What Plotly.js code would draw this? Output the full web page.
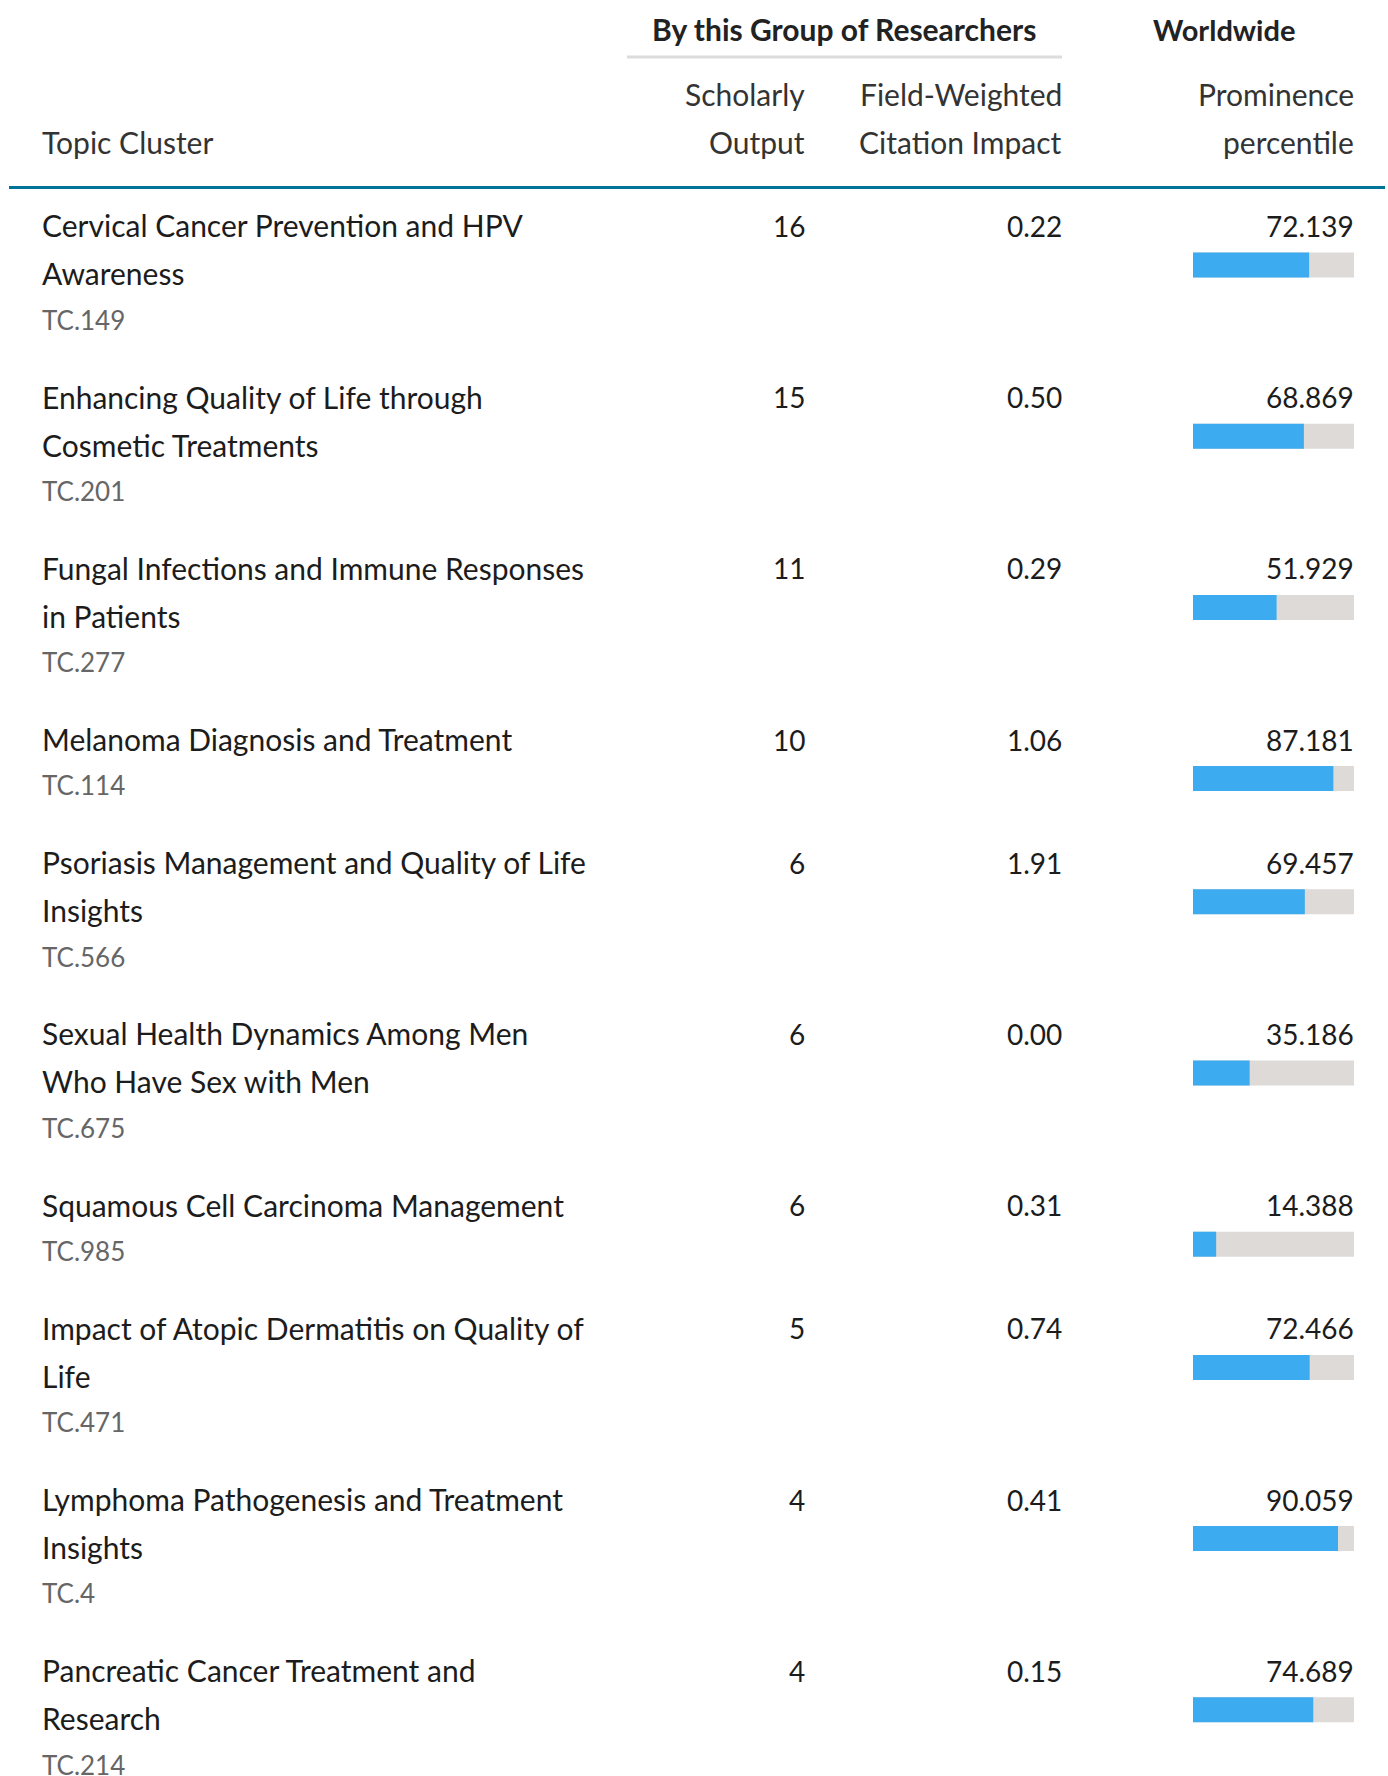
<!DOCTYPE html>
<html>
<head>
<meta charset="utf-8">
<script src="https://cdn.plot.ly/plotly-3.0.1.min.js"></script>
<style>
  html, body { margin: 0; padding: 0; background: #ffffff; }
  #chart { width: 1388px; height: 1776px; }
</style>
</head>
<body>
<div id="chart"></div>
<script>
// ---- data ----
const topics = [
  "Cervical Cancer Prevention and HPV<br>Awareness",
  "Enhancing Quality of Life through<br>Cosmetic Treatments",
  "Fungal Infections and Immune Responses<br>in Patients",
  "Melanoma Diagnosis and Treatment",
  "Psoriasis Management and Quality of Life<br>Insights",
  "Sexual Health Dynamics Among Men<br>Who Have Sex with Men",
  "Squamous Cell Carcinoma Management",
  "Impact of Atopic Dermatitis on Quality of<br>Life",
  "Lymphoma Pathogenesis and Treatment<br>Insights",
  "Pancreatic Cancer Treatment and<br>Research"
];
const codes = ["TC.149", "TC.201", "TC.277", "TC.114", "TC.566", "TC.675", "TC.985", "TC.471", "TC.4", "TC.214"];
const scholarlyOutput = [16, 15, 11, 10, 6, 6, 6, 5, 4, 4];
const fwci = [0.22, 0.50, 0.29, 1.06, 1.91, 0.00, 0.31, 0.74, 0.41, 0.15];
const prominence = [72.139, 68.869, 51.929, 87.181, 69.457, 35.186, 14.388, 72.466, 90.059, 74.689];

const groupHeader = "By this Group of Researchers";
const worldHeader = "Worldwide";
const colTopic = "Topic Cluster";
const colOutput = ["Scholarly", "Output"];
const colFwci = ["Field-Weighted", "Citation Impact"];
const colProm = ["Prominence", "percentile"];

// ---- layout helpers ----
const W = 1388, H = 1776;
const FONT = "Lato, 'Noto Sans', sans-serif";
const FS = 30;
const NUM_FS = 28;
const px = v => v / W;
const CENTER_K = 0.39; // baseline -> text box middle offset (em)

const annotations = [];
function addText(text, xPx, baseline, anchor, opts) {
  opts = opts || {};
  const size = opts.size || FS;
  annotations.push({
    text: text,
    xref: "paper", yref: "y",
    x: px(xPx), y: baseline - CENTER_K * size,
    xanchor: anchor, yanchor: "middle",
    showarrow: false,
    align: anchor === "right" ? "right" : (anchor === "center" ? "center" : "left"),
    font: { family: opts.family || FONT, size: size, color: opts.color || "#1c1c1c", weight: opts.weight || 400 }
  });
}

const X_TITLE = 40, X_OUT = 807, X_FWCI = 1064, X_PROM = 1356;
const BAR_L = 1193, BAR_R = 1354;

// headers
addText(groupHeader, 844, 41, "center", { weight: 700, color: "#222222", size: 30 });
addText(worldHeader, 1224, 41, "center", { weight: 700, color: "#222222", size: 29 });
addText(colOutput[0], X_OUT, 106, "right", { color: "#333333" });
addText(colOutput[1], X_OUT, 154, "right", { color: "#333333" });
addText(colFwci[0], X_FWCI, 106, "right", { color: "#333333" });
addText(colFwci[1], X_FWCI, 154, "right", { color: "#333333" });
addText(colProm[0], X_PROM, 106, "right", { color: "#333333" });
addText(colProm[1], X_PROM, 154, "right", { color: "#333333" });
addText(colTopic, X_TITLE, 154, "left", { color: "#333333" });

// rows
const FIRST_BASELINE = 237, LINE_STEP = 48, CODE_STEP = 45, ROW_PAD = 75.2;
const barY = [];
let base = FIRST_BASELINE;
topics.forEach((t, i) => {
  const lines = t.split("<br>");
  lines.forEach((ln, j) => addText(ln, X_TITLE, base + j * LINE_STEP, "left"));
  addText(codes[i], X_TITLE, base + (lines.length - 1) * LINE_STEP + CODE_STEP, "left", { color: "#666666", size: 26 });
  addText(String(scholarlyOutput[i]), X_OUT, base, "right", { size: NUM_FS });
  addText(fwci[i].toFixed(2), X_FWCI, base, "right", { size: NUM_FS });
  addText(prominence[i].toFixed(3), X_PROM, base, "right", { size: NUM_FS });
  barY.push(base + 28);
  base += ROW_PAD + LINE_STEP * lines.length;
});

const traces = [
  {
    type: "bar", orientation: "h",
    x: prominence.map(() => 100), y: barY, width: barY.map(() => 25),
    marker: { color: "#dedad8", line: { width: 0 } },
    hoverinfo: "skip", showlegend: false
  },
  {
    type: "bar", orientation: "h",
    x: prominence, y: barY, width: barY.map(() => 25),
    marker: { color: "#3cabef", line: { width: 0 } },
    hoverinfo: "skip", showlegend: false
  }
];

const layout = {
  width: W, height: H,
  margin: { l: 0, r: 0, t: 0, b: 0, pad: 0 },
  paper_bgcolor: "#ffffff", plot_bgcolor: "rgba(0,0,0,0)",
  barmode: "overlay",
  showlegend: false,
  xaxis: { domain: [px(BAR_L), px(BAR_R)], range: [0, 100], visible: false, fixedrange: true },
  yaxis: { domain: [0, 1], range: [H, 0], visible: false, fixedrange: true },
  shapes: [
    { type: "line", xref: "paper", yref: "y", x0: px(627), x1: px(1062), y0: 57, y1: 57, line: { color: "#dcdcdc", width: 3 } },
    { type: "line", xref: "paper", yref: "y", x0: px(9), x1: px(1385), y0: 187.5, y1: 187.5, line: { color: "#007398", width: 3 } }
  ],
  annotations: annotations
};

Plotly.newPlot("chart", traces, layout, { displayModeBar: false, staticPlot: true });
</script>
</body>
</html>
